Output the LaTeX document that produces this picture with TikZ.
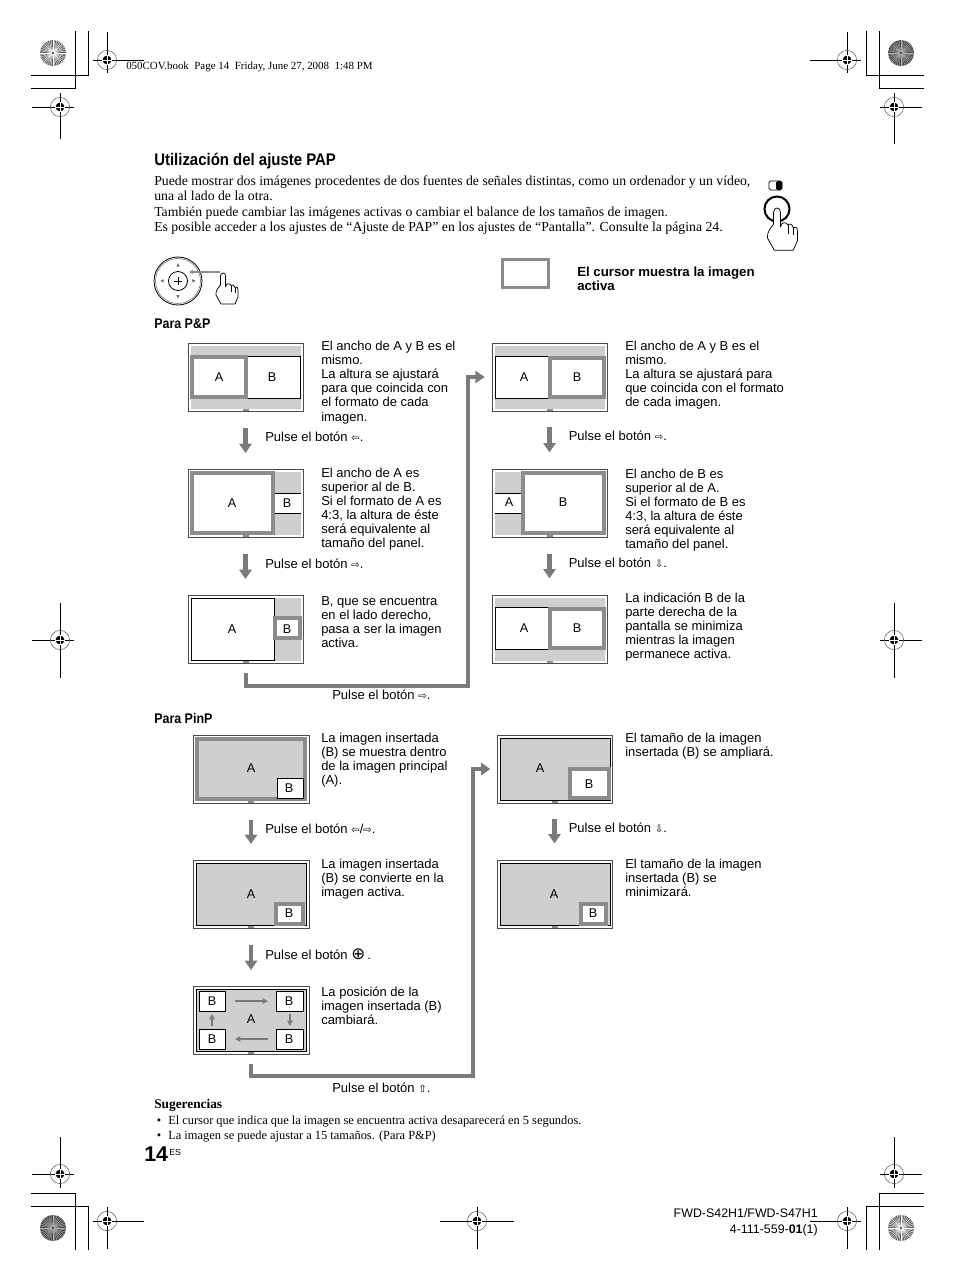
\documentclass[tikz,border=0pt]{standalone}
\usepackage{fontspec}
\usepackage{graphicx}
\setmainfont{Liberation Serif}
\setsansfont{Liberation Sans}
\newfontfamily\symfont{DejaVu Sans}
\newfontfamily\narrowfont[FakeStretch=0.89]{Liberation Sans}
\usetikzlibrary{arrows.meta,fit,calc}
\definecolor{cursorgray}{gray}{0.55}
\definecolor{bandgray}{gray}{0.81}
\definecolor{arrowgray}{gray}{0.48}
\newcommand\btn[1]{{\symfont\fontsize{7.6}{7.6}\selectfont #1}}
\newcommand\panelbox[5]{%
  \node[panelframe,fit={(#2,#3)(#4,#5)}] (#1) {};
  \fill[cursorgray] ($(#1.south)+(-3,-3)$) rectangle ($(#1.south)+(3,0)$);
  \draw[innerframe] (#2+3,#3+3) rectangle (#4-3,#5-3);
}
\newcommand\regmark[6]{%
  \draw[regline] (#3,#2) -- (#4,#2) (#1,#5) -- (#1,#6);
  \draw[regring] (#1,#2) circle[radius=9.6];
  \fill[black] (#1,#2) circle[radius=4.4];
  \draw[white,line width=0.6pt] (#1-4.6,#2) -- (#1+4.6,#2) (#1,#2-4.6) -- (#1,#2+4.6);
}
\newcommand\burst[4]{% x y base-colour ray-colour
  \fill[#3] (#1,#2) circle[radius=13];
  \foreach \a in {0,9,...,351}{\draw[#4,line width=0.28pt] (#1,#2) -- ++(\a:13);}
  \fill[black!70] (#1,#2) circle[radius=1.3];
}
\newcommand\handshape[3]{% tip x, tip y, scale
  \begin{scope}[shift={(#1,#2)},scale=#3]
    \draw[handline,fill=white] (-2.5,12) -- (-2.5,3) .. controls (-2.5,-1) and (2.5,-1) .. (2.5,3) -- (2.5,14)
      .. controls (3,10) and (7,10) .. (8,12.5) .. controls (9,11) and (11.5,12) .. (12,14.5)
      .. controls (13,13) and (15,14) .. (15,17) -- (15,24) -- (12,31) -- (-2,31) -- (-7,22)
      .. controls (-7.5,18) and (-5,15) .. (-2.5,12) -- cycle;
    \draw[handline] (8,12.5) -- (8,19) (12,14.5) -- (12,20);
  \end{scope}
}
\tikzset{
  panelframe/.style={draw=black!70,fill=white,line width=0.7pt,inner sep=0pt,outer sep=0pt,rectangle},
  innerframe/.style={draw=black,line width=0.55pt},
  hairline/.style={draw=black,line width=0.6pt},
  activebox/.style={draw=cursorgray,line width=2.3pt},
  band/.style={fill=bandgray},
  regline/.style={draw=black,line width=0.75pt},
  regring/.style={draw=black!65,line width=0.4pt},
  cropline/.style={draw=black,line width=0.75pt},
  handline/.style={draw=black,line width=0.55pt,line join=round},
  downflow/.style={draw=arrowgray,line width=3.2pt,-{Triangle[width=9.2pt,length=7pt]}},
  longflow/.style={draw=arrowgray,line width=3pt,-{Triangle[width=9.2pt,length=7pt]}},
  smallflow/.style={draw=arrowgray,line width=1.1pt,-{Triangle[width=4pt,length=4pt]}},
  lbl/.style={font=\sffamily\fontsize{9.5}{10.5}\selectfont,inner sep=0pt},
  body/.style={font=\sffamily\fontsize{9.73}{10.55}\selectfont,anchor=north west,align=left,inner sep=0pt},
  press/.style={font=\sffamily\fontsize{9.75}{10.5}\selectfont,anchor=base west,inner sep=0pt},
  serifbody/.style={font=\rmfamily\fontsize{10.32}{11.6}\selectfont,anchor=north west,align=left,inner sep=0pt},
  note/.style={font=\rmfamily\fontsize{9.3}{11}\selectfont,anchor=base west,inner sep=0pt},
  heading/.style={font=\narrowfont\bfseries,anchor=base west,inner sep=0pt},
}
\begin{document}
\begin{tikzpicture}[x=0.75pt,y=-0.75pt]
\useasboundingbox (0,0) rectangle (954,1282);
\fill[white] (0,0) rectangle (954,1282);

% ---- crop lines
\draw[cropline] (75,31) -- (75,88) -- (31,88) (88,31) -- (88,75) -- (31,75);
\draw[cropline] (866,31) -- (866,75) -- (924,75) (879,31) -- (879,88) -- (924,88);
\draw[cropline] (31,1193) -- (75,1193) -- (75,1250) (31,1206) -- (88,1206) -- (88,1250);
\draw[cropline] (924,1193) -- (879,1193) -- (879,1250) (924,1206) -- (866,1206) -- (866,1250);

% ---- registration marks
\regmark{107}{60}{93}{144}{32}{73}
\regmark{60}{107}{32}{74}{93}{139}
\regmark{847}{60}{810}{861}{32}{73}
\regmark{894}{107}{880}{922}{93}{144}
\regmark{60}{640}{32}{74}{603}{678}
\regmark{894}{640}{880}{922}{603}{678}
\regmark{60}{1174}{32}{74}{1137}{1188}
\regmark{894}{1174}{880}{922}{1137}{1188}
\regmark{107}{1221}{93}{144}{1207}{1249}
\regmark{477}{1221}{440}{514}{1207}{1249}
\regmark{847}{1221}{810}{861}{1207}{1249}

% ---- discs
\burst{53}{53}{black!62}{white}
\burst{901}{53}{black!72}{gray!60}
\burst{53}{1228}{black!72}{gray!60}
\burst{901}{1228}{black!62}{white}

% ---- header
\node[note,font=\rmfamily\fontsize{8.2}{9}\selectfont] (hdr) at (126,69) {050COV.book\ \ Page 14\ \ Friday, June 27, 2008\ \ 1:48 PM};
\node[heading,font=\narrowfont\bfseries\fontsize{12.6}{13}\selectfont] (title) at (154,165) {Utilización del ajuste PAP};
\node[serifbody] (intro) at (154,175.5) {Puede mostrar dos imágenes procedentes de dos fuentes de señales distintas, como un ordenador y un vídeo,\\una al lado de la otra.\\También puede cambiar las imágenes activas o cambiar el balance de los tamaños de imagen.\\Es posible acceder a los ajustes de “Ajuste de PAP” en los ajustes de “Pantalla”. Consulte la página 24.};

% ---- PAP button with hand
\draw[black,line width=0.6pt,rounded corners=1.2pt] (769,181) rectangle (782,190);
\fill[black,rounded corners=1.2pt] (776,181) rectangle (782,190);
\draw[black,line width=1.5pt] (777,209) circle[radius=12.5];
\handshape{777}{208}{1.36}

% ---- joystick
\draw[black,line width=0.6pt] (178,281) circle[radius=24];
\draw[black!60,line width=0.4pt] (178,281) circle[radius=22.5];
\draw[black,line width=0.6pt] (178,281) circle[radius=9.5];
\draw[black,line width=0.35pt] (178,277) -- (178,285) (174,281) -- (182,281);
\node[text=black!60,font=\symfont\fontsize{3.4}{4}\selectfont,inner sep=0pt] (jsu) at (178,265) {▲};
\node[text=black!60,font=\symfont\fontsize{3.4}{4}\selectfont,inner sep=0pt] (jsd) at (178,297) {▼};
\node[text=black!60,font=\symfont\fontsize{3.4}{4}\selectfont,inner sep=0pt] (jsl) at (162,281) {◀};
\node[text=black!60,font=\symfont\fontsize{3.4}{4}\selectfont,inner sep=0pt] (jsr) at (194,281) {▶};
\coordinate (jst) at (220,272);
\coordinate (jsh) at (189,272);
\draw[draw=black!45,line width=0.8pt,-{Triangle[width=3pt,length=3pt]}] (jst) -- (jsh);
\handshape{223}{273}{1}

% ---- legend
\node[activebox,minimum width=34pt,minimum height=21.5pt,inner sep=0pt] (legend) at (525.5,273.5) {};
\node[body,font=\sffamily\bfseries\fontsize{9.93}{10.55}\selectfont] (legendtxt) at (577,266.5) {El cursor muestra la imagen\\activa};

\node[heading,font=\narrowfont\bfseries\fontsize{10.5}{11}\selectfont] (parap) at (154,328) {Para P\&P};
\node[heading,font=\narrowfont\bfseries\fontsize{10.5}{11}\selectfont] (parapin) at (154,723) {Para PinP};

% ---- P&P, left column
\panelbox{p1}{188}{343}{303}{411}
\fill[band] (191,346) rectangle (301,356) (191,398) rectangle (301,409);
\draw[hairline] (191,356) -- (301,356) (191,398) -- (301,398) (246,356) -- (246,398);
\draw[activebox] (192,357) rectangle (246,397);
\node[lbl] (p1a) at (219,377) {A};
\node[lbl] (p1b) at (272,377) {B};

\panelbox{p2}{188}{469}{303}{537}
\fill[band] (274,472) rectangle (301,535);
\fill[white] (274,493) rectangle (301,513);
\draw[hairline] (274,472) -- (274,535) (274,493) -- (301,493) (274,513) -- (301,513);
\draw[activebox] (192,473) rectangle (273,533);
\node[lbl] (p2a) at (232,503) {A};
\node[lbl] (p2b) at (287,503) {B};

\panelbox{p3}{188}{595}{303}{663}
\fill[band] (274,598) rectangle (301,661);
\fill[white] (274,617) rectangle (301,639);
\draw[hairline] (274,598) -- (274,661);
\draw[activebox] (275,618) rectangle (300,638);
\node[lbl] (p3a) at (232,629) {A};
\node[lbl] (p3b) at (287,629) {B};

% ---- P&P, right column
\panelbox{p4}{492}{343}{607}{411}
\fill[band] (495,346) rectangle (605,356) (495,398) rectangle (605,409);
\draw[hairline] (495,356) -- (605,356) (495,398) -- (605,398);
\draw[activebox] (550,358) rectangle (604,397);
\node[lbl] (p4a) at (524,377) {A};
\node[lbl] (p4b) at (577,377) {B};

\panelbox{p5}{492}{469}{607}{537}
\fill[band] (495,472) rectangle (522,535);
\fill[white] (495,493) rectangle (522,513);
\draw[hairline] (522,472) -- (522,535) (495,493) -- (522,493) (495,513) -- (522,513);
\draw[activebox] (523,473) rectangle (604,533);
\node[lbl] (p5a) at (509,502) {A};
\node[lbl] (p5b) at (563,502) {B};

\panelbox{p6}{492}{595}{607}{663}
\fill[band] (495,598) rectangle (605,607) (495,649) rectangle (605,661);
\draw[hairline] (495,607) -- (605,607) (495,649) -- (605,649);
\draw[activebox] (550,609) rectangle (604,648);
\node[lbl] (p6a) at (524,628) {A};
\node[lbl] (p6b) at (577,628) {B};

% ---- PinP, left column
\panelbox{p7}{193}{735}{309}{803}
\fill[band] (196,738) rectangle (306,800);
\draw[activebox] (197,739) rectangle (305,799);
\draw[hairline,fill=white] (277,778) rectangle (303,798);
\node[lbl] (p7a) at (251,768) {A};
\node[lbl] (p7b) at (289,788) {B};

\panelbox{p8}{193}{860}{309}{928}
\fill[band] (196,863) rectangle (306,925);
\draw[innerframe] (196,863) rectangle (306,925);
\draw[activebox,fill=white] (276,904) rectangle (303,924);
\node[lbl] (p8a) at (251,894) {A};
\node[lbl] (p8b) at (289,913) {B};

\panelbox{p9}{193}{986}{309}{1054}
\fill[band] (196,989) rectangle (306,1051);
\draw[innerframe] (196,989) rectangle (306,1051);
\draw[hairline,fill=white] (199,991) rectangle (225,1011);
\draw[hairline,fill=white] (276,991) rectangle (303,1011);
\draw[hairline,fill=white] (199,1029) rectangle (225,1049);
\draw[hairline,fill=white] (276,1029) rectangle (303,1049);
\node[lbl] (p9a) at (251,1019) {A};
\node[lbl] (b1) at (212,1001) {B};
\node[lbl] (b2) at (289,1001) {B};
\node[lbl] (b3) at (212,1039) {B};
\node[lbl] (b4) at (289,1039) {B};
\draw[smallflow] (235,1001) -- (268,1001);
\draw[smallflow] (290,1014) -- (290,1026);
\draw[smallflow] (268,1039) -- (235,1039);
\draw[smallflow] (212,1026) -- (212,1014);

% ---- PinP, right column
\panelbox{p10}{497}{735}{612}{803}
\fill[band] (500,738) rectangle (610,800);
\draw[innerframe] (500,738) rectangle (610,800);
\draw[activebox,fill=white] (570,769) rectangle (609,798);
\node[lbl] (p10a) at (540,768) {A};
\node[lbl] (p10b) at (589,784) {B};

\panelbox{p11}{497}{860}{612}{928}
\fill[band] (500,863) rectangle (610,925);
\draw[innerframe] (500,863) rectangle (610,925);
\draw[activebox,fill=white] (581,904) rectangle (606,924);
\node[lbl] (p11a) at (554,894) {A};
\node[lbl] (p11b) at (593,913) {B};

% ---- flow arrows
\draw[downflow,shorten <=12.5pt,shorten >=12pt] (p1.south) -- (p2.north);
\draw[downflow,shorten <=12.5pt,shorten >=12pt] (p2.south) -- (p3.north);
\draw[downflow,shorten <=12pt,shorten >=12.5pt] (p4.south) -- (p5.north);
\draw[downflow,shorten <=12.5pt,shorten >=12.5pt] (p5.south) -- (p6.north);
\draw[downflow,shorten <=12.5pt,shorten >=12pt] (p7.south) -- (p8.north);
\draw[downflow,shorten <=13pt,shorten >=12pt] (p8.south) -- (p9.north);
\draw[downflow,shorten <=12pt,shorten >=12.5pt] (p10.south) -- (p11.north);
\coordinate (turn1) at (468,686);
\coordinate (turn2) at (473,1076);
\draw[longflow,shorten <=7.5pt,shorten >=5.5pt] (p3.south) |- (turn1) |- (p4.west);
\draw[longflow,shorten <=7.5pt,shorten >=5pt] (p9.south) |- (turn2) |- (p10.west);

% ---- descriptions
\node[body] (t1) at (321,341) {El ancho de A y B es el\\mismo.\\La altura se ajustará\\para que coincida con\\el formato de cada\\imagen.};
\node[body] (t2) at (321,467.5) {El ancho de A es\\superior al de B.\\Si el formato de A es\\4:3, la altura de éste\\será equivalente al\\tamaño del panel.};
\node[body] (t3) at (321,596.5) {B, que se encuentra\\en el lado derecho,\\pasa a ser la imagen\\activa.};
\node[body] (t4) at (625,341) {El ancho de A y B es el\\mismo.\\La altura se ajustará para\\que coincida con el formato\\de cada imagen.};
\node[body] (t5) at (625,468.5) {El ancho de B es\\superior al de A.\\Si el formato de B es\\4:3, la altura de éste\\será equivalente al\\tamaño del panel.};
\node[body] (t6) at (625,592.5) {La indicación B de la\\parte derecha de la\\pantalla se minimiza\\mientras la imagen\\permanece activa.};
\node[body] (t7) at (321,732.5) {La imagen insertada\\(B) se muestra dentro\\de la imagen principal\\(A).};
\node[body] (t8) at (321,858.5) {La imagen insertada\\(B) se convierte en la\\imagen activa.};
\node[body] (t9) at (321,986.5) {La posición de la\\imagen insertada (B)\\cambiará.};
\node[body] (t10) at (625,732.5) {El tamaño de la imagen\\insertada (B) se ampliará.};
\node[body] (t11) at (625,858.5) {El tamaño de la imagen\\insertada (B) se\\minimizará.};

% ---- press labels
\node[press] (s1) at (265,441) {Pulse el botón \btn{⇦}.};
\node[press] (s2) at (265,568) {Pulse el botón \btn{⇨}.};
\node[press] (s3) at (332,699) {Pulse el botón \btn{⇨}.};
\node[press] (s4) at (568.5,440) {Pulse el botón \btn{⇨}.};
\node[press] (s5) at (568.5,567) {Pulse el botón \btn{⇩}.};
\node[press] (s6) at (265,833) {Pulse el botón \btn{⇦}/\btn{⇨}.};
\node[press] (s7) at (568.5,832) {Pulse el botón \btn{⇩}.};
\node[press] (s8) at (265,959) {Pulse el botón {\symfont\fontsize{12.5}{12}\selectfont ⊕}\,.};
\node[press] (s9) at (332,1092) {Pulse el botón \btn{⇧}.};

% ---- tips
\node[note,font=\rmfamily\bfseries\fontsize{10}{11}\selectfont] (sug) at (154,1108) {Sugerencias};
\node[note] (bul1) at (156.5,1124) {•};
\node[note] (tip1) at (168,1124) {El cursor que indica que la imagen se encuentra activa desaparecerá en 5 segundos.};
\node[note] (bul2) at (156.5,1139) {•};
\node[note] (tip2) at (168,1139) {La imagen se puede ajustar a 15 tamaños. (Para P\&P)};

% ---- footer
\node[anchor=base west,inner sep=0pt,font=\sffamily\bfseries\fontsize{16}{18}\selectfont] (pg) at (144,1161) {14};
\node[anchor=base west,inner sep=0pt,font=\sffamily\fontsize{6.6}{8}\selectfont] (es) at (169,1155) {ES};
\node[anchor=base east,inner sep=0pt,font=\sffamily\fontsize{9.3}{10}\selectfont] (m1) at (818,1217) {FWD-S42H1/FWD-S47H1};
\node[anchor=base east,inner sep=0pt,font=\sffamily\fontsize{9.3}{10}\selectfont] (m2) at (818,1233) {4-111-559-\textbf{01}(1)};
\end{tikzpicture}
\end{document}
